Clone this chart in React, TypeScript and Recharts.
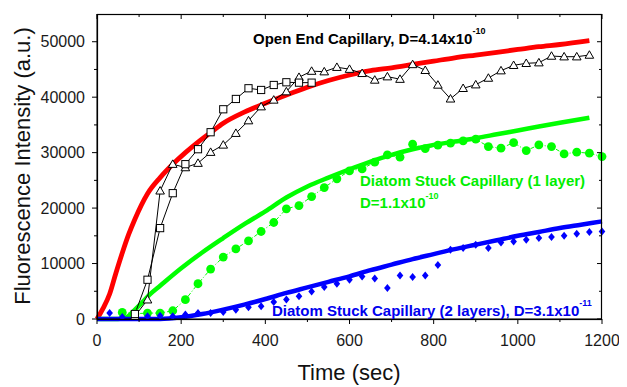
import { ComposedChart, Line, XAxis, YAxis } from 'recharts';

// fitted curves
const redFitTime = [0, 15, 30, 45, 60, 75, 90, 120, 150, 180, 210, 240, 270, 300, 350, 400, 450, 500, 550, 600, 650, 700, 750, 800, 850, 900, 950, 1000, 1050, 1100, 1170];
const redFitValue = [0, 2000, 4500, 8300, 11900, 15200, 18000, 22600, 25500, 27900, 30000, 31900, 33600, 35300, 37300, 38900, 40400, 41800, 43000, 44000, 44800, 45300, 45900, 46500, 47100, 47600, 48100, 48600, 49100, 49500, 50200];

const greenFitTime = [0, 50, 70, 85, 100, 125, 150, 200, 250, 300, 350, 400, 450, 500, 550, 600, 650, 700, 750, 800, 850, 900, 950, 1000, 1050, 1100, 1170];
const greenFitValue = [0, 0, 300, 1300, 2400, 4400, 6000, 9150, 12000, 14600, 17100, 19400, 21900, 23900, 25500, 27000, 28400, 29600, 30600, 31400, 32000, 32600, 33300, 34000, 34700, 35400, 36300];

const blueFitTime = [0, 150, 200, 250, 300, 350, 400, 450, 500, 550, 600, 650, 700, 750, 800, 850, 900, 950, 1000, 1050, 1100, 1150, 1200];
const blueFitValue = [0, 0, 300, 900, 1700, 2600, 3600, 4700, 5700, 6700, 7700, 8800, 9800, 10800, 11700, 12600, 13400, 14200, 15000, 15700, 16400, 17000, 17600];

// measured points
const squareTime = [90, 120, 150, 180, 210, 240, 270, 300, 330, 360, 390, 420, 450, 480, 510];
const squareValue = [900, 7080, 16390, 22690, 27920, 30620, 33680, 37820, 39680, 41610, 41300, 42200, 42690, 42620, 42620];

const triangleTime = [90, 120, 150, 180, 210, 240, 270, 300, 330, 360, 390, 420, 450, 480, 510, 540, 570, 600, 630, 660, 690, 720, 750, 780, 810, 840, 870, 900, 930, 960, 990, 1020, 1050, 1080, 1110, 1140, 1170];
const triangleValue = [500, 3470, 23110, 27920, 27310, 28100, 30080, 31390, 33500, 35770, 38290, 39500, 41000, 43600, 44700, 44600, 45400, 45050, 44300, 43100, 43700, 43250, 45900, 44850, 42200, 39700, 41600, 42250, 43450, 44780, 45750, 46110, 46220, 47420, 47300, 47300, 47600];

const dotTime = [60, 90, 120, 150, 180, 210, 240, 270, 300, 330, 360, 390, 420, 450, 480, 510, 540, 570, 600, 630, 660, 690, 720, 750, 780, 810, 840, 870, 900, 930, 960, 990, 1020, 1050, 1080, 1110, 1140, 1170, 1200];
const dotValue = [1190, 950, 1070, 1070, 1490, 3480, 6360, 9000, 11170, 12660, 14100, 15780, 17400, 19870, 20460, 22080, 23700, 25270, 26710, 27070, 28280, 29590, 29180, 31520, 30730, 31340, 31700, 32110, 32420, 31090, 30800, 31810, 30370, 31390, 31090, 29770, 30080, 29900, 29290];

const diamondTime = [30, 60, 90, 120, 150, 180, 210, 240, 270, 300, 330, 360, 390, 420, 450, 480, 510, 540, 570, 600, 630, 660, 690, 720, 750, 780, 810, 840, 870, 900, 930, 960, 990, 1020, 1050, 1080, 1110, 1140, 1170, 1200];
const diamondValue = [1090, 360, 360, 480, 600, 480, 790, 1090, 1090, 1270, 1690, 2110, 2300, 3080, 3500, 4090, 4970, 5760, 6360, 7080, 7670, 7310, 5580, 7850, 7560, 7850, 9720, 12480, 12790, 13380, 12790, 13800, 13980, 14280, 14590, 14770, 15000, 15360, 15670, 15780];

const xTicks = [0, 100, 200, 300, 400, 500, 600, 700, 800, 900, 1000, 1100, 1200];
const yTicks = [0, 5000, 10000, 15000, 20000, 25000, 30000, 35000, 40000, 45000, 50000];
const X_MAX = 1200;
const Y_MAX = 55000;

// chart box
const W = 627;
const H = 387;
const MARGIN = { top: 14, right: 25, left: 0, bottom: 0 };
const Y_AXIS_W = 97;
const X_AXIS_H = 68;
const plotLeft = MARGIN.left + Y_AXIS_W;
const plotRight = W - MARGIN.right;
const plotTop = MARGIN.top;
const plotBottom = H - X_AXIS_H;

const zip = (t: number[], v: number[]) => t.map((x, i) => ({ t: x, v: v[i] }));

const FONT = '"Liberation Sans", Arial, sans-serif';

const BottomTick = (props: any) => {
  const { x, y, payload } = props;
  const major = payload.value % 200 === 0;
  return (
    <g>
      <line x1={x} y1={y} x2={x} y2={y + (major ? 5 : 3)} stroke="#000" />
      {major && (
        <text x={x} y={y + 26.5} textAnchor="middle" fontSize={16} fill="#1a1a1a" fontFamily={FONT}>
          {payload.value}
        </text>
      )}
    </g>
  );
};

const LeftTick = (props: any) => {
  const { x, y, payload } = props;
  const major = payload.value % 10000 === 0;
  return (
    <g>
      <line x1={x - (major ? 5 : 3)} y1={y} x2={x} y2={y} stroke="#000" />
      {major && (
        <text x={x - 12} y={y + 5.7} textAnchor="end" fontSize={16} fill="#1a1a1a" fontFamily={FONT}>
          {payload.value}
        </text>
      )}
    </g>
  );
};

const Square = (props: any) => {
  const { cx, cy, index } = props;
  return <rect key={index} x={cx - 3.6} y={cy - 3.6} width={7.2} height={7.2} fill="#fff" stroke="#000" strokeWidth={1} />;
};

const Triangle = (props: any) => {
  const { cx, cy, index } = props;
  return (
    <path key={index} d={`M${cx},${cy - 4.3}L${cx + 4.3},${cy + 3.2}L${cx - 4.3},${cy + 3.2}Z`} fill="#fff" stroke="#000" strokeWidth={1} />
  );
};

const Dot = (props: any) => {
  const { cx, cy, index } = props;
  return <circle key={index} cx={cx} cy={cy} r={4.4} fill="#00ff00" stroke="none" />;
};

const Diamond = (props: any) => {
  const { cx, cy, index } = props;
  return <path key={index} d={`M${cx},${cy - 4}L${cx + 3.3},${cy}L${cx},${cy + 4}L${cx - 3.3},${cy}Z`} fill="#0000ff" />;
};

const sx = (t: number) => plotLeft + (t / X_MAX) * (plotRight - plotLeft);
const sy = (v: number) => plotBottom - (v / Y_MAX) * (plotBottom - plotTop);

export default function App() {
  return (
    <div style={{ position: 'relative', margin: '-8px 0 0 -8px', width: W, height: H, background: '#fff' }}>
      <ComposedChart width={W} height={H} margin={MARGIN}>
        <XAxis
          type="number"
          dataKey="t"
          domain={[0, X_MAX]}
          ticks={xTicks}
          interval={0}
          height={X_AXIS_H}
          tickSize={0}
          tickMargin={0}
          tick={BottomTick}
          axisLine={{ stroke: '#000' }}
        />
        <YAxis
          type="number"
          domain={[0, Y_MAX]}
          ticks={yTicks}
          interval={0}
          width={Y_AXIS_W}
          tickSize={0}
          tickMargin={0}
          tick={LeftTick}
          axisLine={{ stroke: '#000' }}
        />

        <Line data={zip(redFitTime, redFitValue)} dataKey="v" type="monotone" stroke="#ff0000" strokeWidth={4.8} dot={false} isAnimationActive={false} />
        <Line data={zip(greenFitTime, greenFitValue)} dataKey="v" type="monotone" stroke="#00ff00" strokeWidth={4.5} dot={false} isAnimationActive={false} />
        <Line data={zip(blueFitTime, blueFitValue)} dataKey="v" type="monotone" stroke="#0000ff" strokeWidth={4.5} dot={false} isAnimationActive={false} />

        <Line data={zip(dotTime, dotValue)} dataKey="v" type="linear" stroke="#00ff00" strokeWidth={1} strokeDasharray="4 2 1 2" dot={Dot} isAnimationActive={false} />
        <Line data={zip(diamondTime, diamondValue)} dataKey="v" type="linear" stroke="none" dot={Diamond} isAnimationActive={false} />
        <Line data={zip(triangleTime, triangleValue)} dataKey="v" type="linear" stroke="#000" strokeWidth={1} dot={Triangle} isAnimationActive={false} />
        <Line data={zip(squareTime, squareValue)} dataKey="v" type="linear" stroke="#000" strokeWidth={1} dot={Square} isAnimationActive={false} />
      </ComposedChart>

      <svg width={W} height={H} style={{ position: 'absolute', left: 0, top: 0, pointerEvents: 'none', overflow: 'visible' }} fontFamily={FONT}>
        {/* top/right side of the frame with inward ticks */}
        <rect x={plotLeft + 0.5} y={plotTop + 0.5} width={plotRight - plotLeft - 1} height={plotBottom - plotTop} fill="none" stroke="#000000" strokeWidth={1.2} />
        {xTicks.map((t) => (
          <line key={`tx${t}`} x1={sx(t)} y1={plotTop} x2={sx(t)} y2={plotTop + (t % 200 === 0 ? 5 : 3)} stroke="#000000" strokeWidth={1} />
        ))}
        {yTicks.map((v) => (
          <line key={`ty${v}`} x1={plotRight - (v % 10000 === 0 ? 5 : 3)} y1={sy(v)} x2={plotRight} y2={sy(v)} stroke="#000000" strokeWidth={1} />
        ))}

        <text x={253} y={44} fontSize={15} fontWeight="bold" fill="#000">
          Open End Capillary, D=4.14x10<tspan dy={-10} fontSize={9}>-10</tspan>
        </text>
        <text x={360} y={185.5} fontSize={15} fontWeight="bold" fill="#00ee00">
          Diatom Stuck Capillary (1 layer)
        </text>
        <text x={360} y={208} fontSize={15} fontWeight="bold" fill="#00ee00">
          D=1.1x10<tspan dy={-9} fontSize={9}>-10</tspan>
        </text>
        <text x={272} y={316} fontSize={15} fontWeight="bold" fill="#0000ee">
          Diatom Stuck Capillary (2 layers), D=3.1x10<tspan dy={-10} fontSize={9}>-11</tspan>
        </text>
        <text x={349} y={380} textAnchor="middle" fontSize={22} fill="#111">
          Time (sec)
        </text>
        <text transform="translate(30,166) rotate(-90)" textAnchor="middle" fontSize={22} fill="#111">
          Fluorescence Intensity (a.u.)
        </text>
      </svg>
    </div>
  );
}
